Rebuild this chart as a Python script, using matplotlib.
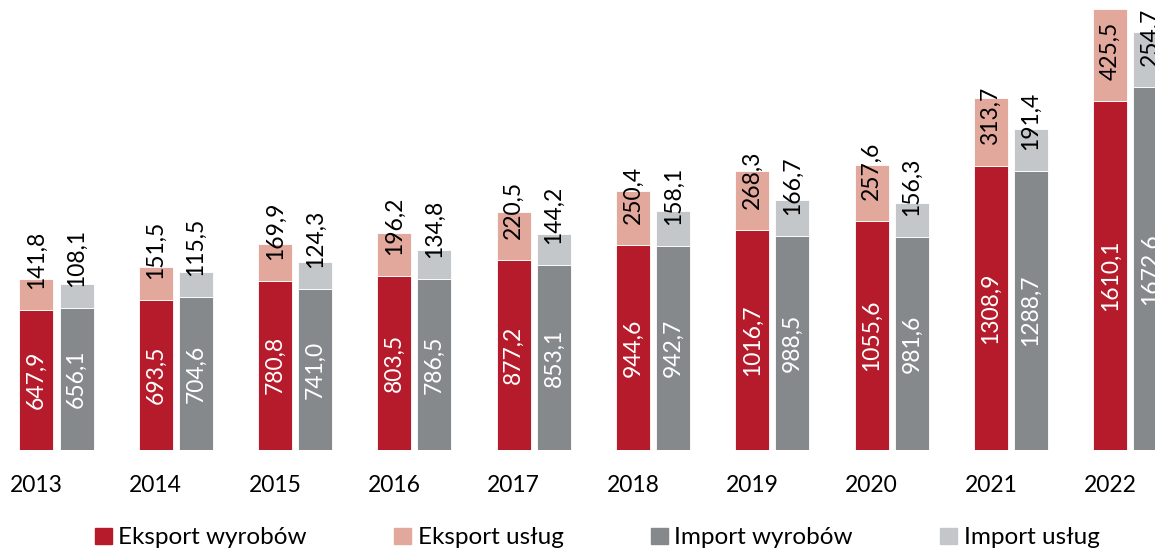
import matplotlib
matplotlib.use("Agg")
import matplotlib.pyplot as plt
from matplotlib.patches import Patch
import numpy as np

years = ["2013", "2014", "2015", "2016", "2017", "2018", "2019", "2020", "2021", "2022"]
eksport_wyrobow = [647.9, 693.5, 780.8, 803.5, 877.2, 944.6, 1016.7, 1055.6, 1308.9, 1610.1]
eksport_uslug = [141.8, 151.5, 169.9, 196.2, 220.5, 250.4, 268.3, 257.6, 313.7, 425.5]
import_wyrobow = [656.1, 704.6, 741.0, 786.5, 853.1, 942.7, 988.5, 981.6, 1288.7, 1672.6]
import_uslug = [108.1, 115.5, 124.3, 134.8, 144.2, 158.1, 166.7, 156.3, 191.4, 254.7]

RED = "#B61B2B"
PINK = "#E3A89C"
DGREY = "#85898B"
LGREY = "#C4C7C9"

plt.rcParams['font.family'] = ['Lato', 'DejaVu Sans']

def fmt(v):
    return f"{v:.1f}".replace('.', ',')

fig = plt.figure(figsize=(11.55, 5.49), dpi=100)
ax = fig.add_axes([0, 99 / 549, 1, 450 / 549])

x = np.arange(len(years))
off = 0.168
w = 0.285
px_per_unit = 0.2168  # pixels per value unit
ymax = 450 / px_per_unit

ax.bar(x - off, eksport_wyrobow, w, color=RED, edgecolor="white", linewidth=0.6)
ax.bar(x - off, eksport_uslug, w, bottom=eksport_wyrobow, color=PINK, edgecolor="white", linewidth=0.6)
ax.bar(x + off, import_wyrobow, w, color=DGREY, edgecolor="white", linewidth=0.6)
ax.bar(x + off, import_uslug, w, bottom=import_wyrobow, color=LGREY, edgecolor="white", linewidth=0.6)

fs = 16.5
lift = 21 / px_per_unit  # top labels start a bit above the segment bottom
for i in range(len(years)):
    for xp, base, top in [(x[i] - off, eksport_wyrobow[i], eksport_uslug[i]),
                          (x[i] + off, import_wyrobow[i], import_uslug[i])]:
        ax.text(xp, base / 2, fmt(base), rotation=90, ha="center", va="center",
                color="white", fontsize=fs)
        ax.text(xp, base + lift, fmt(top), rotation=90, ha="center", va="bottom",
                color="black", fontsize=fs)

ax.set_xlim(-56.5 / 119.3, (1155 - 56.5) / 119.3)
ax.set_ylim(0, ymax)
ax.set_xticks(x - off)
ax.set_xticklabels(years, fontsize=16.5)
ax.tick_params(axis="x", length=0, pad=18)
ax.set_yticks([])
for s in ax.spines.values():
    s.set_visible(False)

handles = [Patch(color=RED), Patch(color=PINK), Patch(color=DGREY), Patch(color=LGREY)]
labels = ["Eksport wyrobów", "Eksport usług", "Import wyrobów", "Import usług"]
fig.legend(handles, labels, loc="center left", bbox_to_anchor=(95 / 1155, 1 - 538 / 549),
           ncol=4, frameon=False, fontsize=17.5, handlelength=0.68, handleheight=0.68,
           handletextpad=0.28, columnspacing=3.6, borderpad=0, borderaxespad=0)

fig.savefig("out.png", dpi=100)
